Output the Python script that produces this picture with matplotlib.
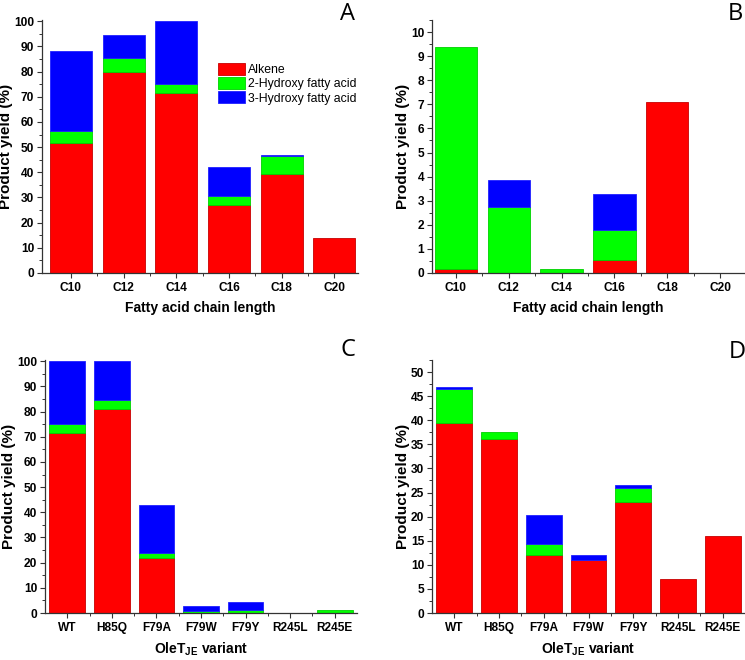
import matplotlib
matplotlib.use("Agg")
import matplotlib.pyplot as plt
import numpy as np
from matplotlib.ticker import MultipleLocator, FixedLocator

plt.rcParams['font.family'] = ['Liberation Sans', 'DejaVu Sans']
plt.rcParams['mathtext.fontset'] = 'custom'
plt.rcParams['mathtext.rm'] = 'Liberation Sans:bold'
plt.rcParams['mathtext.bf'] = 'Liberation Sans:bold'

chain = ['C10', 'C12', 'C14', 'C16', 'C18', 'C20']
variants = ['WT', 'H85Q', 'F79A', 'F79W', 'F79Y', 'R245L', 'R245E']
series = ['Alkene', '2-Hydroxy fatty acid', '3-Hydroxy fatty acid']

# Panel A
a_alkene = [51.5, 80.0, 71.7, 27.0, 39.5, 14.0]
a_2oh = [5.0, 5.3, 3.5, 3.5, 7.0, 0.0]
a_3oh = [31.5, 9.4, 24.8, 11.7, 0.5, 0.0]
# Panel B
b_alkene = [0.15, 0.0, 0.0, 0.55, 7.1, 0.0]
b_2oh = [9.25, 2.75, 0.15, 1.22, 0.0, 0.0]
b_3oh = [0.0, 1.12, 0.0, 1.5, 0.0, 0.0]
# Panel C
c_alkene = [71.7, 81.2, 22.0, 0.0, 0.0, 0.0, 0.0]
c_2oh = [3.5, 3.3, 1.7, 0.9, 1.1, 0.0, 1.2]
c_3oh = [24.8, 15.5, 19.3, 2.0, 3.2, 0.0, 0.0]
# Panel D
d_alkene = [39.5, 36.2, 12.1, 11.1, 23.1, 7.1, 16.0]
d_2oh = [7.0, 1.4, 2.3, 0.0, 2.8, 0.0, 0.0]
d_3oh = [0.5, 0.0, 5.9, 0.9, 0.6, 0.0, 0.0]

colors = ['#ff0000', '#00ff00', '#0000ff']
edges = ['#c80000', '#00d000', '#2020ff']

W, H = 745, 660
fig = plt.figure(figsize=(W / 100, H / 100), dpi=100)
TICK_FS = 8.6


def add_ax(l, r, t, b):
    return fig.add_axes([l / W, 1 - b / H, (r - l) / W, (b - t) / H])


def draw(ax, cats, alk, oh2, oh3, ylim, major, minor, xlim, xlabel, letter, lx, ly, legend=False):
    x = np.arange(len(cats))
    alk = np.array(alk); oh2 = np.array(oh2); oh3 = np.array(oh3)
    handles = []
    bottom = np.zeros(len(cats))
    for vals, c, e, lab in zip([alk, oh2, oh3], colors, edges, series):
        h = ax.bar(x, vals, 0.8, bottom=bottom, color=c, edgecolor=e, linewidth=0.6, label=lab)
        for p, v in zip(h.patches, vals):
            if v == 0:
                p.set_linewidth(0)
                p.set_visible(False)
        handles.append(h)
        bottom = bottom + vals
    ax.set_xlim(*xlim)
    ax.set_ylim(*ylim)
    ax.set_xticks(x)
    ax.set_xticklabels(cats, fontweight='bold', fontsize=TICK_FS)
    ax.xaxis.set_minor_locator(FixedLocator(x[:-1] + 0.5))
    ax.yaxis.set_major_locator(MultipleLocator(major))
    ax.yaxis.set_minor_locator(MultipleLocator(minor))
    for lab in ax.get_yticklabels():
        lab.set_fontweight('bold')
        lab.set_fontsize(TICK_FS)
    ax.tick_params(which='major', direction='out', length=3.5, width=0.8, color='#333333', pad=2)
    ax.tick_params(which='minor', direction='out', length=2, width=0.7, color='#333333')
    ax.tick_params(axis='x', which='major', pad=3)
    for s in ['top', 'right']:
        ax.spines[s].set_visible(False)
    for s in ['left', 'bottom']:
        ax.spines[s].set_color('#333333')
        ax.spines[s].set_linewidth(0.9)
    ax.set_ylabel('Product yield (%)', fontweight='bold', fontsize=11, labelpad=1)
    ax.set_xlabel(xlabel, fontweight='bold', fontsize=10, labelpad=5)
    fig.text(lx / W, 1 - ly / H, letter, fontsize=17, family='Open Sans', ha='center', va='center')
    if legend:
        ax.legend(handles=handles, loc='upper left', bbox_to_anchor=(0.557, 0.83), frameon=False,
                  fontsize=8.8, handlelength=2.2, handleheight=1.1, labelspacing=0.1,
                  handletextpad=0.25, borderpad=0, borderaxespad=0)


axA = add_ax(42, 358, 20, 273)
draw(axA, chain, a_alkene, a_2oh, a_3oh, (0, 100.5), 10, 5, (-0.55, 5.45),
     'Fatty acid chain length', 'A', 348, 14, legend=True)

axB = add_ax(432, 744, 20, 273)
draw(axB, chain, b_alkene, b_2oh, b_3oh, (0, 10.5), 1, 0.5, (-0.45, 5.45),
     'Fatty acid chain length', 'B', 735, 14)

axC = add_ax(45, 357, 360, 613)
draw(axC, variants, c_alkene, c_2oh, c_3oh, (0, 100.5), 10, 5, (-0.5, 6.5),
     r'OleT$_{\mathregular{JE}}$ variant', 'C', 348, 350)

axD = add_ax(432, 745, 360, 613)
draw(axD, variants, d_alkene, d_2oh, d_3oh, (0, 52.5), 5, 2.5, (-0.5, 6.5),
     r'OleT$_{\mathregular{JE}}$ variant', 'D', 737, 352)

fig.savefig('out.png', dpi=100)
